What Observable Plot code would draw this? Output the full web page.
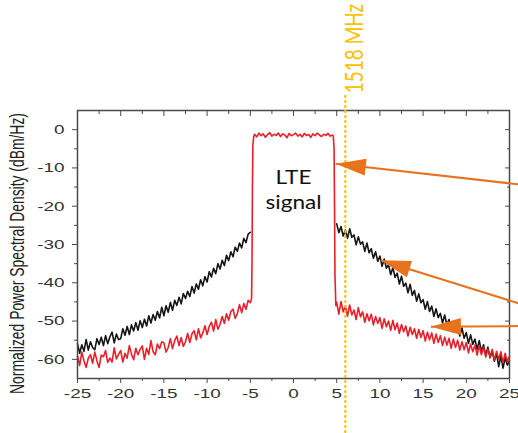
<!DOCTYPE html>
<html><head><meta charset="utf-8">
<script src="https://cdn.jsdelivr.net/npm/d3@7"></script>
<script src="https://cdn.jsdelivr.net/npm/@observablehq/plot@0.6"></script>
<style>html,body{margin:0;padding:0;background:#fff}</style>
</head><body><div id="chart"></div>
<script>
// ---- tick values ----
const xTicks = [-25, -20, -15, -10, -5, 0, 5, 10, 15, 20, 25];
const xMinor = [-22.5, -17.5, -12.5, -7.5, -2.5, 2.5, 7.5, 12.5, 17.5, 22.5];
const yTicks = [0, -10, -20, -30, -40, -50, -60];
const yMinor = [-5, -15, -25, -35, -45, -55];
const yLabel = "Normalized Power Spectral Density (dBm/Hz)";

// ---- sampling grids (frequency offset, MHz) ----
const step = 0.25;
const xLeft = d3.range(-25, -4.99, step);   // -25 ... -5
const xBand = d3.range(-4.5, 4.51, step);   // -4.5 ... 4.5
const xRight = d3.range(5, 25.01, step);    // 5 ... 25

// ---- red trace ----
const redLeftY = [-59.2,-61.6,-58.1,-60.4, -62.1,-59.7,-58.8,-61.0, -58.1,-60.4,-62.1,-58.9, -59.3,-57.7,-60.8,-59.7,
  -60.7,-57.0,-59.9,-58.7, -57.7,-60.7,-58.4,-59.7, -56.4,-58.7,-60.1,-57.1, -58.8,-57.4,-56.5,-60.0,
  -57.1,-58.7,-55.1,-58.0, -58.8,-56.0,-57.2,-55.4, -55.7,-58.1,-56.9,-54.6, -57.2,-55.1,-53.9,-56.4,
  -54.3,-56.6,-55.4,-53.2, -55.6,-53.3,-52.5,-54.9, -52.0,-54.4,-53.1,-51.2, -53.5,-51.4,-50.3,-52.6,
  -49.6,-52.1,-50.9,-48.8, -50.6,-48.1,-49.8,-47.5, -46.9,-49.3,-48.1,-45.7, -47.8,-45.4,-46.9,-44.6, -45.2];
const redRiseX = [-4.85, -4.8, -4.75, -4.7, -4.6];
const redRiseY = [-44.0, -34.0, -14.0, -4.0, -1.8];
const redBandY = [-1.2,-1.9,-0.9,-1.6,-1.1,-2.0,-1.3,-0.8,-1.7,-1.2,-1.5,-0.9,-1.8,-1.1,-1.4,-2.1,-1.0,-1.6,-1.3,
  -0.9,-1.7,-1.2,-1.9,-1.0,-1.5,-1.3,-2.0,-1.1,-1.6,-0.9,-1.4,-1.8,-1.2,-1.5,-1.0,-1.7,-1.4];
const redFallX = [4.6, 4.7, 4.75, 4.8, 4.9];
const redFallY = [-1.6, -5.0, -20.0, -38.0, -46.0];
const redRightY = [-45.1,-48.2,-44.9,-47.6, -46.0,-48.7,-45.8,-48.4, -47.1,-49.6,-46.5,-48.9, -47.6,-50.3,-48.1,-49.9,
  -48.2,-51.0,-48.8,-50.6, -49.1,-51.9,-49.4,-51.5, -50.0,-52.4,-49.8,-52.3, -50.5,-53.2,-50.9,-52.8,
  -51.3,-53.9,-51.6,-53.5, -52.0,-54.5,-52.2,-54.3, -52.5,-55.2,-52.9,-54.9, -53.1,-55.8,-53.4,-55.6,
  -53.8,-56.4,-54.2,-56.3, -54.5,-57.1,-54.7,-56.9, -55.0,-57.6,-55.4,-57.5, -55.6,-58.3,-56.0,-58.0,
  -56.3,-58.9,-56.5,-58.8, -56.8,-59.4,-57.3,-59.3, -57.4,-60.2,-57.9,-60.0, -58.0,-60.9,-58.4,-60.6, -59.2];

// ---- black trace ----
const blackLeftY = [-55.9,-58.4,-56.2,-57.9, -54.8,-57.6,-55.4,-56.9, -57.5,-54.6,-56.1,-54.2, -56.4,-53.8,-55.9,-54.1,
  -52.9,-55.7,-53.4,-54.8, -54.6,-52.0,-53.7,-51.4, -53.5,-51.0,-52.6,-50.4, -52.4,-49.9,-51.7,-49.5,
  -51.3,-48.6,-50.5,-48.3, -49.8,-47.5,-49.2,-46.4, -48.6,-46.0,-47.7,-45.1, -47.2,-44.6,-45.9,-43.8,
  -45.5,-42.8,-44.1,-42.2, -43.6,-41.0,-42.7,-40.3, -41.7,-39.2,-40.8,-38.4, -39.8,-37.1,-38.5,-36.2,
  -37.6,-35.0,-36.4,-34.1, -35.5,-32.8,-34.2,-31.9, -33.2,-30.7,-31.8,-29.6, -30.9,-28.4,-29.5,-27.3, -26.8];
const blackRightY = [-24.6,-26.9,-25.3,-27.8, -26.2,-28.4,-25.9,-28.1, -27.5,-30.1,-28.0,-29.9, -29.3,-31.8,-29.6,-32.2,
  -31.1,-33.6,-31.9,-34.4, -33.0,-35.7,-33.8,-36.2, -35.3,-37.9,-36.0,-38.6, -37.5,-40.3,-38.3,-40.9,
  -40.1,-42.6,-40.4,-43.3, -42.0,-44.8,-42.9,-45.2, -44.4,-46.9,-44.9,-47.5, -46.1,-48.8,-46.8,-49.1,
  -48.0,-50.5,-48.4,-51.0, -49.6,-52.2,-50.3,-52.6, -51.4,-53.9,-51.8,-54.5, -53.0,-55.8,-53.6,-56.1,
  -54.7,-57.4,-55.1,-57.9, -56.2,-59.0,-56.8,-59.6, -57.8,-60.5,-58.4,-61.9, -59.1,-62.3,-59.6,-61.5, -60.4];

// ---- annotations ----
const markerFreq = [6];
const markerLabel = ["1518 MHz"];
const bandLabel = [{x: 0, y: -15.3, text: "LTE\nsignal"}];
const arrowTipX = [4.9, 10.1, 15.9];
const arrowTipY = [-8.9, -34.1, -51.5];
const arrowTailX = [26.1, 26.1, 26.1];
const arrowTailY = [-14.3, -45.4, -51.3];

// ---- build tables ----
const pts = (xs, ys) => xs.map((x, i) => ({x, y: ys[i]}));
const red = [
  ...pts(xLeft, redLeftY), ...pts(redRiseX, redRiseY), ...pts(xBand, redBandY),
  ...pts(redFallX, redFallY), ...pts(xRight, redRightY)
];
const blackL = pts(xLeft, blackLeftY);
const blackR = pts(xRight, blackRightY);
const arrows = arrowTipX.map((x, i) => ({x1: arrowTailX[i], y1: arrowTailY[i], x2: x, y2: arrowTipY[i]}));

const axisColor = "#4a4a4a";
const fmt = d => String(d);   // plain hyphen-minus, as in the source
const chart = Plot.plot({
  width: 518, height: 433,
  marginLeft: 77, marginRight: 9, marginTop: 110, marginBottom: 55,
  x: {domain: [-25, 25]},
  y: {domain: [-65, 5]},
  style: {fontFamily: "'Liberation Sans', Arial, sans-serif", fontSize: "13.5px", color: "#333", background: "#fff", overflow: "visible"},
  marks: [
    Plot.axisX(xTicks, {tickSize: 5, tickPadding: 5, tickFormat: fmt, label: null, stroke: axisColor, fill: "#333"}),
    Plot.axisX(xMinor, {tickSize: 3, tickFormat: () => "", label: null, stroke: axisColor}),
    Plot.axisX(xTicks, {anchor: "top", tickSize: -5, tickFormat: () => "", label: null, stroke: axisColor}),
    Plot.axisX(xMinor, {anchor: "top", tickSize: -3, tickFormat: () => "", label: null, stroke: axisColor}),
    Plot.axisY(yTicks, {tickSize: 5, tickPadding: 8, tickFormat: fmt, label: null, stroke: axisColor, fill: "#333"}),
    Plot.axisY(yMinor, {tickSize: 3, tickFormat: () => "", label: null, stroke: axisColor}),
    Plot.axisY(yTicks, {anchor: "right", tickSize: -5, tickFormat: () => "", label: null, stroke: axisColor}),
    Plot.axisY(yMinor, {anchor: "right", tickSize: -3, tickFormat: () => "", label: null, stroke: axisColor}),
    Plot.text([yLabel], {frameAnchor: "left", textAnchor: "middle", dx: -59.5, dy: 9, rotate: -90, text: d => d, fontSize: 13.9, fill: "#222"}),
    Plot.line(blackL, {x: "x", y: "y", stroke: "#151515", strokeWidth: 1.6}),
    Plot.line(blackR, {x: "x", y: "y", stroke: "#151515", strokeWidth: 1.6}),
    Plot.line(red, {x: "x", y: "y", stroke: "#e8202a", strokeWidth: 1.6}),
    Plot.frame({stroke: axisColor, strokeWidth: 1.5}),
    Plot.ruleX(markerFreq, {x: d => d, stroke: "#FFC000", strokeWidth: 2, strokeDasharray: "3,2", insetTop: -15, insetBottom: -55}),
    Plot.text(markerFreq, {x: d => d, text: (d, i) => markerLabel[i], frameAnchor: "top", dy: -62, rotate: -90, textAnchor: "middle",
      fill: "#FFC000", fontSize: 19, fontFamily: "Lato, 'Open Sans', sans-serif"}),
    Plot.text(bandLabel, {x: "x", y: "y", text: "text", fontSize: 18.5, lineHeight: 1.35, fill: "#111", fontFamily: "Lato, 'Open Sans', sans-serif"}),
    Plot.link(arrows, {x1: "x1", y1: "y1", x2: "x2", y2: "y2", stroke: "#E8731F", strokeWidth: 2})
  ]
});
document.getElementById("chart").appendChild(chart);

// ---- styling touches: filled arrowheads, widened glyphs like the source ----
const ns = "http://www.w3.org/2000/svg";
const defs = document.createElementNS(ns, "defs");
const mk = document.createElementNS(ns, "marker");
mk.setAttribute("id", "ahead");
mk.setAttribute("markerUnits", "userSpaceOnUse");
mk.setAttribute("viewBox", "-32 -10 34 20");
mk.setAttribute("markerWidth", "34");
mk.setAttribute("markerHeight", "20");
mk.setAttribute("refX", "0");
mk.setAttribute("refY", "0");
mk.setAttribute("orient", "auto");
const hp = document.createElementNS(ns, "path");
hp.setAttribute("d", "M0,0L-30,-8.5L-30,8.5Z");
hp.setAttribute("fill", "#E8731F");
mk.appendChild(hp);
defs.appendChild(mk);
chart.insertBefore(defs, chart.firstChild);
chart.querySelectorAll('g[aria-label="link"] path').forEach(p => p.setAttribute("marker-end", "url(#ahead)"));

// widen glyphs without moving them (source image is horizontally stretched)
function widen(nodes, k) {
  nodes.forEach(t => {
    if (!t.textContent) return;
    const w = t.getComputedTextLength();
    if (w > 0) {
      t.setAttribute("textLength", (w * k).toFixed(1));
      t.setAttribute("lengthAdjust", "spacingAndGlyphs");
    }
  });
}
// rotated texts: widen across the baseline (screen-horizontal) around their anchor
function thicken(nodes, k) {
  nodes.forEach(t => {
    const tr = t.getAttribute("transform") || "";
    if (/rotate/.test(tr)) t.setAttribute("transform", tr.replace(/^(translate\([^)]*\))/, `$1 scale(${k},1)`));
  });
}
widen(chart.querySelectorAll('g[aria-label="x-axis tick label"] text, g[aria-label="y-axis tick label"] text'), 1.4);
const texts = chart.querySelectorAll('g[aria-label="text"]');
thicken(texts[0].querySelectorAll("text"), 1.45);
thicken(texts[1].querySelectorAll("text"), 1.3);
widen(texts[2].querySelectorAll("tspan"), 1.22);
</script>
</body></html>
